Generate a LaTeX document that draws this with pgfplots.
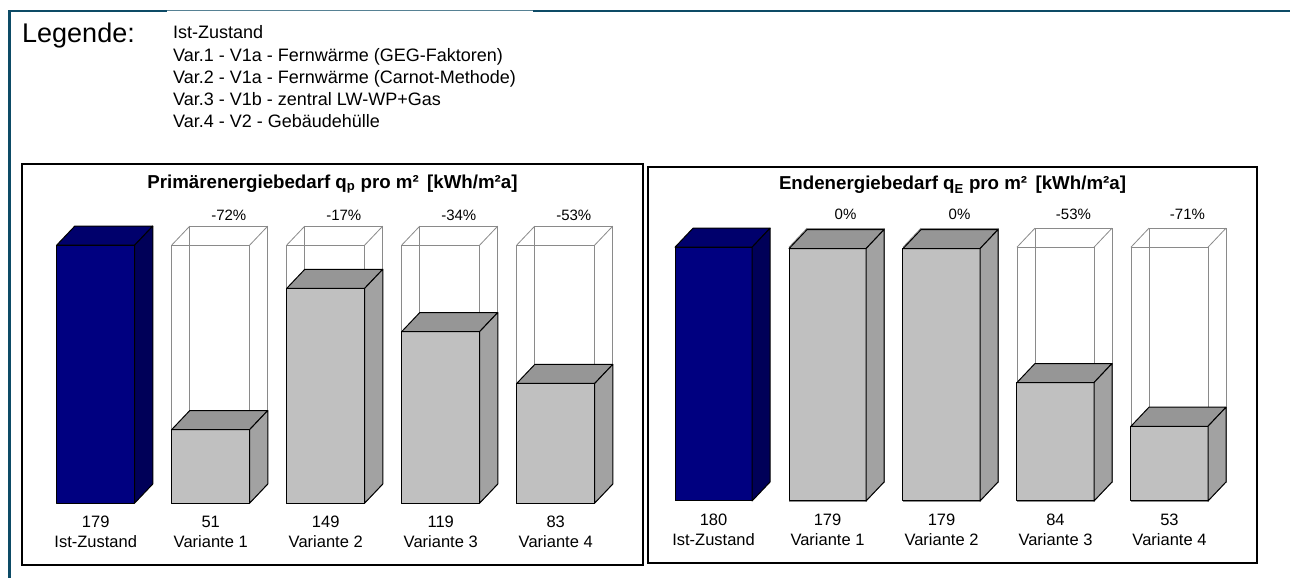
\documentclass[border=0pt]{standalone}
\usepackage{pgfplots}
\pgfplotsset{compat=1.18}
\usepackage{pgfplotstable}
\usepackage{fontspec}
\setmainfont{Liberation Sans}

\definecolor{framecol}{HTML}{0D4B66}
\definecolor{navyfront}{HTML}{000080}
\definecolor{navytop}{HTML}{00006C}
\definecolor{navyside}{HTML}{000058}
\definecolor{grfront}{HTML}{C0C0C0}
\definecolor{grtop}{HTML}{969696}
\definecolor{grside}{HTML}{A2A2A2}
\definecolor{wiregray}{HTML}{8A8A8A}

% values per panel (index 0 = Ist-Zustand)
\pgfplotstableread{
idx val
0 179
1 51
2 149
3 119
4 83
}\primtab
\pgfplotstableread{
idx val
0 180
1 179
2 179
3 84
4 53
}\endtab

\pgfplotsset{
  wire/.style={draw=wiregray, line width=0.8pt, mark=none},
  face/.style={draw=black, line width=1pt, line join=round, mark=none},
  panel/.style={
    scale only axis, clip=false,
    axis line style={black, line width=1.2pt},
    xtick={0,...,4}, ytick=\empty,
    major tick length=0pt, xtick style={draw=none},
    xticklabel style={font=\fontsize{16.5}{20.5}\selectfont, align=center,
      anchor=center, yshift=33pt},
    title style={font=\bfseries\fontsize{18.7}{22}\selectfont,
      at={(0.5,1)}, anchor=base},
  },
}

% pseudo-3d boxes, drawn in axis units; \bhw half width, \bdx/\bdy depth
\newcommand\boxcorners[2]{%
  \pgfmathsetmacro\bxl{#1-\bhw}\pgfmathsetmacro\bxr{#1+\bhw}%
  \pgfmathsetmacro\bxlb{#1-\bhw+\bdx}\pgfmathsetmacro\bxrb{#1+\bhw+\bdx}%
  \pgfmathsetmacro\byt{#2}\pgfmathsetmacro\bytb{#2+\bdy}%
}
\newcommand\wirebox[2]{%
  \boxcorners{#1}{#2}%
  \addplot[wire] coordinates {(\bxl,0) (\bxr,0) (\bxr,\byt) (\bxl,\byt)} --cycle;
  \addplot[wire] coordinates {(\bxlb,\bdy) (\bxrb,\bdy) (\bxrb,\bytb) (\bxlb,\bytb)} --cycle;
  \addplot[wire] coordinates {(\bxl,\byt) (\bxlb,\bytb)};
  \addplot[wire] coordinates {(\bxr,\byt) (\bxrb,\bytb)};
  \addplot[wire] coordinates {(\bxr,0) (\bxrb,\bdy)};
}
\newcommand\solidbar[5]{%
  \boxcorners{#1}{#2}%
  \addplot[face, fill=#3] coordinates {(\bxl,0) (\bxr,0) (\bxr,\byt) (\bxl,\byt)} --cycle;
  \addplot[face, fill=#4] coordinates {(\bxl,\byt) (\bxr,\byt) (\bxrb,\bytb) (\bxlb,\bytb)} --cycle;
  \addplot[face, fill=#5] coordinates {(\bxr,0) (\bxrb,\bdy) (\bxrb,\bytb) (\bxr,\byt)} --cycle;
}
\newcommand\drawbars[1]{%
  \pgfplotstablegetelem{0}{val}\of#1\let\bref\pgfplotsretval
  \solidbar{0}{\bref}{navyfront}{navytop}{navyside}
  \pgfplotsinvokeforeach{1,...,4}{
    \pgfplotstablegetelem{##1}{val}\of#1\let\bval\pgfplotsretval
    \pgfmathtruncatemacro\needwire{\bval<\bref-0.5}
    \ifnum\needwire=1 \wirebox{##1}{\bref}\fi
    \solidbar{##1}{\bval}{grfront}{grtop}{grside}
  }
}

\begin{document}
\begin{tikzpicture}
\useasboundingbox[fill=white] (0pt,0pt) rectangle (1290pt,-578pt);

% outer frame
\draw[framecol, line width=2.8pt] (9.5pt,-578pt) -- (9.5pt,-11pt) -- (167pt,-11pt);
\draw[framecol!70, line width=0.9pt] (167pt,-10.8pt) -- (533pt,-10.8pt);
\draw[framecol, line width=2.8pt] (533pt,-11pt) -- (1290pt,-11pt);

% legend text
\node[anchor=base west, inner sep=0pt, font=\fontsize{27}{32}\selectfont] at (22pt,-43pt) {Legende:};
\begin{scope}[every node/.style={anchor=base west, inner sep=0pt, font=\fontsize{18}{21}\selectfont}]
\node at (173pt,-39pt) {Ist-Zustand};
\node at (173pt,-61.5pt) {Var.1 - V1a - Fernwärme (GEG-Faktoren)};
\node at (173pt,-83.5pt) {Var.2 - V1a - Fernwärme (Carnot-Methode)};
\node at (173pt,-105.5pt) {Var.3 - V1b - zentral LW-WP+Gas};
\node at (173pt,-127.5pt) {Var.4 - V2 - Gebäudehülle};
\end{scope}

% left panel: primary energy
\begin{axis}[panel,
  at={(22pt,-565pt)}, anchor=south west,
  width=621pt, height=401pt,
  xmin=-0.641, xmax=4.759, ymin=-43.0, ymax=235.3,
  title={Primärenergiebedarf q\textsubscript{p} pro m²\hspace{0.45em}[kWh/m²a]},
  title style={yshift=-30pt},
  xticklabels={{179\\Ist-Zustand},{51\\Variante 1},{149\\Variante 2},{119\\Variante 3},{83\\Variante 4}},
]
\def\bhw{0.339}\def\bdx{0.157}\def\bdy{13.2}
\drawbars{\primtab}
\addplot[draw=none, mark=none, nodes near coords, point meta=explicit symbolic,
  nodes near coords align={center},
  every node near coord/.append style={font=\fontsize{15}{17}\selectfont}]
  coordinates {(1.157,199.9) [-72\%] (2.157,199.9) [-17\%] (3.157,199.9) [-34\%] (4.157,199.9) [-53\%]};
\end{axis}

% right panel: final energy
\begin{axis}[panel,
  at={(648pt,-563pt)}, anchor=south west,
  width=609pt, height=396pt,
  xmin=-0.575, xmax=4.768, ymin=-44.0, ymax=236.9,
  title={Endenergiebedarf q\textsubscript{E} pro m²\hspace{0.45em}[kWh/m²a]},
  title style={yshift=-29pt},
  xticklabels={{180\\Ist-Zustand},{179\\Variante 1},{179\\Variante 2},{84\\Variante 3},{53\\Variante 4}},
]
\def\bhw{0.338}\def\bdx{0.158}\def\bdy{13.5}
\drawbars{\endtab}
\addplot[draw=none, mark=none, nodes near coords, point meta=explicit symbolic,
  nodes near coords align={center},
  every node near coord/.append style={font=\fontsize{15}{17}\selectfont}]
  coordinates {(1.158,203.5) [0\%] (2.158,203.5) [0\%] (3.158,203.5) [-53\%] (4.158,203.5) [-71\%]};
\end{axis}
\end{tikzpicture}
\end{document}
